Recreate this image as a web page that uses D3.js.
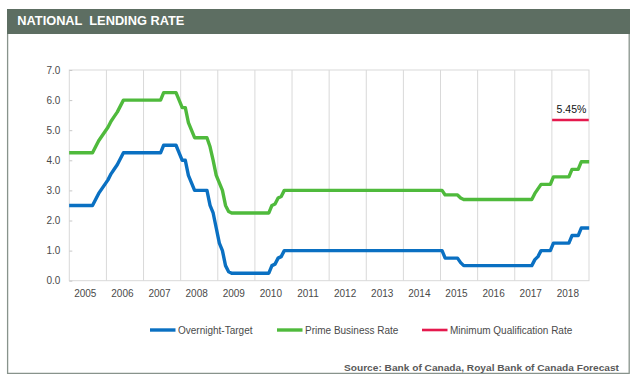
<!DOCTYPE html>
<html><head><meta charset="utf-8">
<script src="https://cdn.jsdelivr.net/npm/d3@7"></script>
<style>
body{margin:0;background:#fff}
svg{display:block;font-family:"Liberation Sans",Arial,Helvetica,sans-serif}
</style>
</head><body>
<svg id="c" width="637" height="381"></svg>
<script>
// ---------- data ----------
const years = ["2005","2006","2007","2008","2009","2010","2011","2012","2013","2014","2015","2016","2017","2018"];
const yTicks = [0,1,2,3,4,5,6,7];
// monthly values, Jan 2005 .. Dec 2018
const overnight = [
  2.5,2.5,2.5,2.5,2.5,2.5,2.5,2.5,2.7,2.9,3.05,3.2,
  3.35,3.55,3.7,3.85,4.05,4.25,4.25,4.25,4.25,4.25,4.25,4.25,
  4.25,4.25,4.25,4.25,4.25,4.25,4.5,4.5,4.5,4.5,4.5,4.25,
  4.0,4.0,3.5,3.25,3.0,3.0,3.0,3.0,3.0,2.5,2.25,1.75,
  1.25,1.0,0.5,0.3,0.25,0.25,0.25,0.25,0.25,0.25,0.25,0.25,
  0.25,0.25,0.25,0.25,0.25,0.5,0.55,0.75,0.8,1.0,1.0,1.0,
  1.0,1.0,1.0,1.0,1.0,1.0,1.0,1.0,1.0,1.0,1.0,1.0,
  1.0,1.0,1.0,1.0,1.0,1.0,1.0,1.0,1.0,1.0,1.0,1.0,
  1.0,1.0,1.0,1.0,1.0,1.0,1.0,1.0,1.0,1.0,1.0,1.0,
  1.0,1.0,1.0,1.0,1.0,1.0,1.0,1.0,1.0,1.0,1.0,1.0,
  1.0,0.75,0.75,0.75,0.75,0.75,0.6,0.5,0.5,0.5,0.5,0.5,
  0.5,0.5,0.5,0.5,0.5,0.5,0.5,0.5,0.5,0.5,0.5,0.5,
  0.5,0.5,0.5,0.5,0.5,0.5,0.7,0.8,1.0,1.0,1.0,1.0,
  1.25,1.25,1.25,1.25,1.25,1.25,1.5,1.5,1.5,1.75,1.75,1.75
];
const prime = [
  4.25,4.25,4.25,4.25,4.25,4.25,4.25,4.25,4.45,4.65,4.8,4.95,
  5.1,5.3,5.45,5.6,5.8,6.0,6.0,6.0,6.0,6.0,6.0,6.0,
  6.0,6.0,6.0,6.0,6.0,6.0,6.25,6.25,6.25,6.25,6.25,6.0,
  5.75,5.75,5.25,5.0,4.75,4.75,4.75,4.75,4.75,4.45,4.0,3.5,
  3.25,3.0,2.5,2.3,2.25,2.25,2.25,2.25,2.25,2.25,2.25,2.25,
  2.25,2.25,2.25,2.25,2.25,2.5,2.55,2.75,2.8,3.0,3.0,3.0,
  3.0,3.0,3.0,3.0,3.0,3.0,3.0,3.0,3.0,3.0,3.0,3.0,
  3.0,3.0,3.0,3.0,3.0,3.0,3.0,3.0,3.0,3.0,3.0,3.0,
  3.0,3.0,3.0,3.0,3.0,3.0,3.0,3.0,3.0,3.0,3.0,3.0,
  3.0,3.0,3.0,3.0,3.0,3.0,3.0,3.0,3.0,3.0,3.0,3.0,
  3.0,2.85,2.85,2.85,2.85,2.85,2.75,2.7,2.7,2.7,2.7,2.7,
  2.7,2.7,2.7,2.7,2.7,2.7,2.7,2.7,2.7,2.7,2.7,2.7,
  2.7,2.7,2.7,2.7,2.7,2.7,2.9,3.05,3.2,3.2,3.2,3.2,
  3.45,3.45,3.45,3.45,3.45,3.45,3.7,3.7,3.7,3.95,3.95,3.95
];
const minQualStart = 156;          // Jan 2018
const minQual = [5.34,5.34,5.34,5.34,5.34,5.34,5.34,5.34,5.34,5.34,5.34,5.34];
const minQualLabel = "5.45%";
const seriesNames = ["Overnight-Target","Prime Business Rate","Minimum Qualification Rate"];
const seriesColors = ["#0a70c2","#4fba3c","#e5194d"];

// ---------- chart ----------
const svg = d3.select("#c");
const L = 69.3, R = 589, T = 70, B = 280.7;
const nMonths = years.length * 12;
const x = d3.scaleLinear().domain([0, nMonths]).range([L, R]);
const y = d3.scaleLinear().domain([0, 7]).range([B, T]);

// header band and frame
svg.append("rect").attr("x",7).attr("y",9).attr("width",623).attr("height",25).attr("fill","#5d6e62");
svg.append("text").attr("x",17.3).attr("y",25).attr("fill","#fff")
  .attr("font-size",12.5).attr("font-weight","bold").attr("xml:space","preserve")
  .attr("textLength",167).attr("lengthAdjust","spacingAndGlyphs")
  .text("NATIONAL  LENDING RATE");
svg.append("path").attr("d","M7.6,34V373.4H629.2V34").attr("fill","none")
  .attr("stroke","#88938c").attr("stroke-width",1.3);

// vertical gridlines at year boundaries
const g = svg.append("g");
g.selectAll("line.grid").data(d3.range(1, years.length)).join("line")
  .attr("x1", d => x(d*12)).attr("x2", d => x(d*12))
  .attr("y1", T).attr("y2", B)
  .attr("stroke","#d9d9d9").attr("stroke-width",1);
g.append("rect").attr("x",L).attr("y",T).attr("width",R-L).attr("height",B-T)
  .attr("fill","none").attr("stroke","#d9d9d9").attr("stroke-width",1);

// y axis
const yAxis = svg.append("g").attr("transform",`translate(${L},0)`)
  .call(d3.axisLeft(y).tickValues(yTicks).tickSize(-3).tickPadding(9).tickFormat(d3.format(".1f")));
yAxis.select(".domain").remove();
yAxis.selectAll("line").attr("stroke","#c8c8c8");
yAxis.selectAll("text").attr("font-size",10).attr("fill","#4a4a4a").attr("font-family","Liberation Sans, Arial, sans-serif");

// x axis (labels)
const xAxis = svg.append("g").attr("transform",`translate(0,${B})`)
  .call(d3.axisBottom(x).tickValues(years.map((d,i)=>i*12+5)).tickSize(0).tickPadding(9.5)
    .tickFormat((d,i)=>years[i]));
xAxis.select(".domain").remove();
xAxis.selectAll("text").attr("font-size",10).attr("fill","#4a4a4a").attr("font-family","Liberation Sans, Arial, sans-serif");

// lines
const line = d3.line().x((d,i)=>x(i+0.5)).y(d=>y(d));
[overnight, prime].forEach((s,k)=>{
  svg.append("path").datum(s).attr("d",line).attr("fill","none")
    .attr("stroke",seriesColors[k]).attr("stroke-width",3.4)
    .attr("stroke-linejoin","round").attr("stroke-linecap","square");
});
const qLine = d3.line().x((d,i)=>x(minQualStart+i+0.5)).y(d=>y(d));
svg.append("path").datum(minQual).attr("d",qLine).attr("fill","none")
  .attr("stroke",seriesColors[2]).attr("stroke-width",2.6).attr("stroke-linecap","square");
svg.append("text").attr("x",(x(minQualStart)+x(nMonths))/2+1).attr("y",y(minQual[0])-6.5)
  .attr("text-anchor","middle").attr("font-size",10.5).attr("fill","#111").text(minQualLabel);

// legend
const legX = [150,277,422];
const leg = svg.append("g");
seriesNames.forEach((n,k)=>{
  leg.append("line").attr("x1",legX[k]).attr("x2",legX[k]+25.5).attr("y1",330).attr("y2",330)
    .attr("stroke",seriesColors[k]).attr("stroke-width",k===2?2.6:3.4);
  leg.append("text").attr("x",legX[k]+28).attr("y",333.5).attr("font-size",10)
    .attr("fill","#4a4a4a").text(n);
});

// source
svg.append("text").attr("x",619).attr("y",370.5).attr("text-anchor","end")
  .attr("font-size",9.6).attr("font-weight","bold").attr("fill","#595959")
  .attr("textLength",275).attr("lengthAdjust","spacingAndGlyphs")
  .text("Source: Bank of Canada, Royal Bank of Canada Forecast");
</script>
</body></html>
